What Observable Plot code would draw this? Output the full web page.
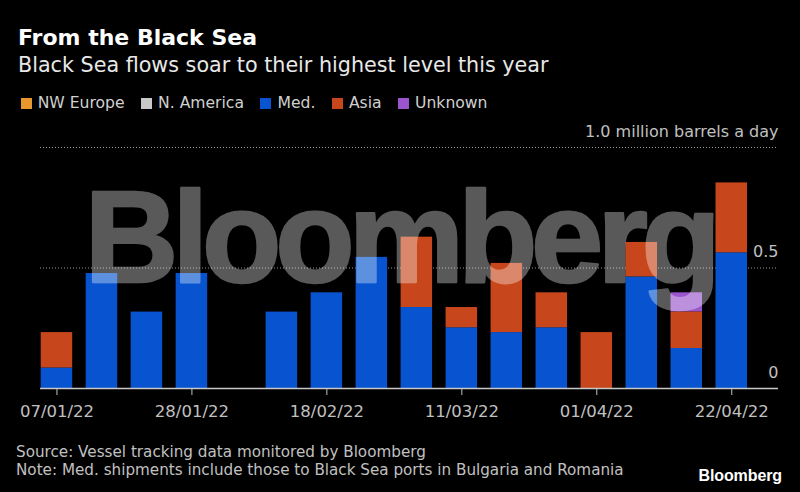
<!DOCTYPE html>
<html><head><meta charset="utf-8">
<script src="https://cdn.jsdelivr.net/npm/d3@7"></script>
<script src="https://cdn.jsdelivr.net/npm/@observablehq/plot@0.6"></script>
<style>
html,body{margin:0;padding:0;background:#000;}
#wrap{position:relative;width:800px;height:492px;overflow:hidden;background:#000;font-family:"DejaVu Sans",sans-serif;}
.t{position:absolute;left:18px;white-space:nowrap;line-height:1;}
#title{top:27.4px;font-size:22px;font-weight:bold;color:#fff;}
#subtitle{top:55.2px;font-size:20.7px;color:#e8e8e8;}
#legend{position:absolute;left:20.7px;top:95.6px;display:flex;font-size:15.6px;line-height:1;color:#d0d0d0;white-space:nowrap;}
.item{display:flex;align-items:flex-start;margin-right:16.5px;}
.sw{width:11px;height:11px;margin-right:6px;margin-top:2.4px;}
#chart{position:absolute;left:0;top:115px;}
#source{top:444.5px;left:16px;font-size:15.2px;color:#c0c0c0;}
#note{top:462.5px;left:16px;font-size:15.2px;color:#c0c0c0;}
#logo{position:absolute;right:18px;top:468px;font-family:"Liberation Sans",Arial,sans-serif;font-weight:bold;font-size:16px;line-height:1;color:#fff;letter-spacing:-0.1px;}
</style>
</head>
<body>
<div id="wrap">
  <div id="title" class="t">From the Black Sea</div>
  <div id="subtitle" class="t">Black Sea flows soar to their highest level this year</div>
  <div id="legend"></div>
  <div id="chart"></div>
  <div id="source" class="t">Source: Vessel tracking data monitored by Bloomberg</div>
  <div id="note" class="t">Note: Med. shipments include those to Black Sea ports in Bulgaria and Romania</div>
  <div id="logo">Bloomberg</div>
</div>
<script>
const weeks = ["07/01/22","14/01/22","21/01/22","28/01/22","04/02/22","11/02/22","18/02/22","25/02/22",
               "04/03/22","11/03/22","18/03/22","25/03/22","01/04/22","08/04/22","15/04/22","22/04/22"];
const series = ["NW Europe","N. America","Med.","Asia","Unknown"];
const colors = ["#e8962e","#c8c8c8","#0854d0","#c7461b","#9a55cc"];
const nwEurope  = [0,0,0,0,0,0,0,0,0,0,0,0,0,0,0,0];
const nAmerica  = [0,0,0,0,0,0,0,0,0,0,0,0,0,0,0,0];
const med       = [0.085,0.477,0.317,0.477,0,0.317,0.397,0.544,0.336,0.252,0.232,0.252,0,0.463,0.166,0.563];
const asia      = [0.147,0,0,0,0,0,0,0,0.292,0.084,0.287,0.145,0.232,0.143,0.152,0.290];
const unknown   = [0,0,0,0,0,0,0,0,0,0,0,0,0,0,0.079,0];
const xTickLabels = ["07/01/22","28/01/22","18/02/22","11/03/22","01/04/22","22/04/22"];
const yTicks = [0, 0.5, 1.0];
const yTickLabels = ["0","0.5","1.0 million barrels a day"];

const seriesValues = [nwEurope, nAmerica, med, asia, unknown];
const rows = [];
series.forEach((s, si) => {
  weeks.forEach((w, i) => {
    const v = seriesValues[si][i];
    if (v > 0) rows.push({week: w, series: s, value: v});
  });
});

// legend
const legend = document.getElementById("legend");
series.forEach((s, i) => {
  const item = document.createElement("div");
  item.className = "item";
  const sw = document.createElement("div");
  sw.className = "sw";
  sw.style.background = colors[i];
  const lab = document.createElement("span");
  lab.textContent = s;
  item.appendChild(sw); item.appendChild(lab);
  legend.appendChild(item);
});

const chart = Plot.plot({
  width: 800,
  height: 315,
  marginLeft: 40,
  marginRight: 22,
  marginTop: 32,
  marginBottom: 42,
  style: {background: "#000", color: "#c0c0c0", fontFamily: "DejaVu Sans", fontSize: "16px", overflow: "visible"},
  x: {type: "band", domain: weeks, range: [40.7, 747], paddingInner: 0.3, paddingOuter: 0, round: false},
  y: {domain: [0, 1], axis: null},
  color: {domain: series, range: colors},
  marks: [
    Plot.ruleY([0.5, 1.0], {stroke: "#9a9a9a", strokeDasharray: "1,2", strokeWidth: 1}),
    Plot.barY(rows, {x: "week", y: "value", fill: "series", order: series}),
    Plot.axisX({ticks: xTickLabels, tickSize: 7, tickPadding: 10, fontSize: 16.5, stroke: "#c0c0c0", fill: "#c0c0c0", label: null}),
    Plot.ruleY([0], {stroke: "#c8c8c8", strokeWidth: 1.5}),
    Plot.text(yTicks, {y: d => d, text: yTickLabels, frameAnchor: "right", textAnchor: "end", lineAnchor: "bottom", dy: -11, fill: "#c0c0c0", fontSize: 16}),
    Plot.text(["Bloomberg"], {text: d => d, frameAnchor: "top-left", dx: 44, dy: 134.5, lineAnchor: "bottom", textAnchor: "start",
      fontSize: 130, fontWeight: "bold", fontFamily: "Liberation Sans", fill: "#fff", stroke: "#fff", strokeWidth: 2.5, opacity: 0.35, ariaDescription: "watermark"})
  ]
});
chart.querySelectorAll('g[aria-description="watermark"] text').forEach(t => t.setAttribute("letter-spacing", "-6.2"));
document.getElementById("chart").appendChild(chart);
</script>
</body></html>
